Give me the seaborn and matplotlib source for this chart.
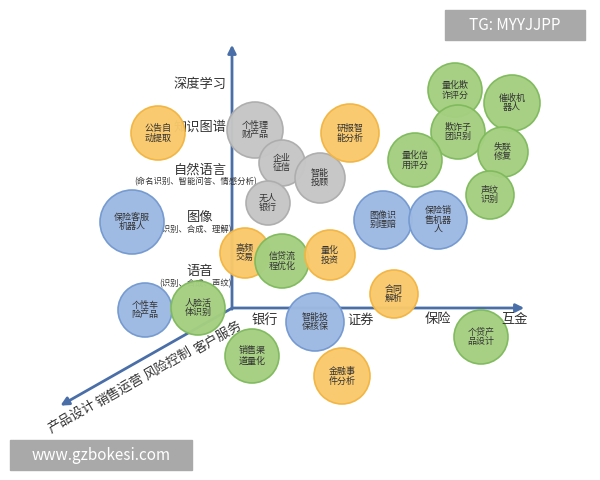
import matplotlib
matplotlib.use("Agg")
import matplotlib.pyplot as plt
import seaborn as sns
import pandas as pd
from matplotlib.patches import FancyArrowPatch, Rectangle

sns.set_theme(style="white")
plt.rcParams['font.family'] = ['Noto Sans CJK SC', 'DejaVu Sans']

names = ["公告自\n动提取", "个性理\n财产品", "企业\n征信", "智能\n投顾", "无人\n银行", "研报智\n能分析",
         "量化欺\n诈评分", "催收机\n器人", "欺诈子\n团识别", "量化信\n用评分", "失联\n修复", "声纹\n识别",
         "保险客服\n机器人", "图像识\n别理赔", "保险销\n售机器\n人", "高频\n交易", "信贷流\n程优化", "量化\n投资",
         "合同\n解析", "个性车\n险产品", "人脸活\n体识别", "智能投\n保核保", "销售渠\n道量化", "金融事\n件分析", "个贷产\n品设计"]
xs = [158, 255, 282, 320, 268, 350, 455, 512, 458, 415, 503, 490, 132, 383, 438, 245, 282, 330, 394, 145, 198, 315, 252, 342, 481]
ys = [133, 130, 163, 178, 203, 133, 90, 103, 132, 160, 152, 195, 222, 220, 220, 253, 261, 255, 294, 310, 308, 322, 356, 376, 337]
radii = [27, 28, 23, 25, 22, 29, 27, 28, 27, 27, 25, 24, 32, 29, 29, 25, 27, 25, 24, 27, 27, 29, 27, 28, 27]
groups = ["o", "g", "g", "g", "g", "o", "n", "n", "n", "n", "n", "n", "b", "b", "b", "o", "n", "o", "o", "b", "n", "b", "n", "o", "n"]

y_labels = ["深度学习", "知识图谱", "自然语言", "图像", "语音"]
y_sub = ["", "", "(命名识别、智能问答、情感分析)", "(识别、合成、理解)", "(识别、合成、声纹)"]
x_labels = ["银行", "证券", "保险", "互金"]
d_labels = ["客户服务", "风险控制", "销售运营", "产品设计"]

fill = {"o": "#F9C96B", "g": "#C6C6C6", "n": "#A4CF80", "b": "#9DB9E2"}
edge = {"o": "#F2B540", "g": "#ADADAD", "n": "#7FBA5C", "b": "#7399D0"}

fig = plt.figure(figsize=(6, 4.8), dpi=100)
ax = fig.add_axes([0, 0, 1, 1])
ax.set_xlim(0, 600); ax.set_ylim(480, 0); ax.axis("off")

ac = "#4A6FA8"
ax.add_patch(FancyArrowPatch((232, 312), (232, 42), arrowstyle="-|>", mutation_scale=12, color=ac, lw=2))
ax.add_patch(FancyArrowPatch((230, 308), (527, 308), arrowstyle="-|>", mutation_scale=12, color=ac, lw=2))
ax.add_patch(FancyArrowPatch((234, 307), (58, 407), arrowstyle="-|>", mutation_scale=12, color=ac, lw=2))

df = pd.DataFrame({"x": xs, "y": ys, "s": [(1.44 * r) ** 2 for r in radii], "g": groups})
smin, smax = df.s.min(), df.s.max()
sns.scatterplot(data=df, x="x", y="y", size="s", sizes=(smin, smax), size_norm=(smin, smax),
                hue="g", palette=fill, legend=False, ax=ax, zorder=3,
                edgecolor=[edge[g] for g in groups], linewidth=1.2, alpha=0.97)
ax.set_xlim(0, 600); ax.set_ylim(480, 0)
for n, x, y in zip(names, xs, ys):
    ax.text(x, y, n, ha="center", va="center", fontsize=6.5, color="#333333", zorder=4, linespacing=1.1)

ly = [84, 127, 170, 218, 272]
for t, s, y in zip(y_labels, y_sub, ly):
    ax.text(200, y, t, ha="center", va="center", fontsize=9.5, color="#333333", zorder=2)
    if s:
        ax.text(196, y + 12, s, ha="center", va="center", fontsize=6, color="#333333", zorder=2)
for t, x in zip(x_labels, [265, 361, 438, 515]):
    ax.text(x, 320, t, ha="center", va="center", fontsize=9.5, color="#333333", zorder=5)
for t, (x, y) in zip(d_labels, [(218, 338), (168, 364), (120, 391), (72, 417)]):
    ax.text(x, y, t, ha="center", va="center", fontsize=9.5, rotation=30, color="#333333", zorder=5)

ax.add_patch(Rectangle((445, 10), 140, 30, color="#A9A9A9", zorder=6))
ax.text(515, 25, "TG: MYYJJPP", ha="center", va="center", fontsize=11, color="white", zorder=7)
ax.add_patch(Rectangle((10, 440), 182, 30, color="#A9A9A9", zorder=6))
ax.text(101, 455, "www.gzbokesi.com", ha="center", va="center", fontsize=11, color="white", zorder=7)

fig.savefig("out.png", dpi=100)
